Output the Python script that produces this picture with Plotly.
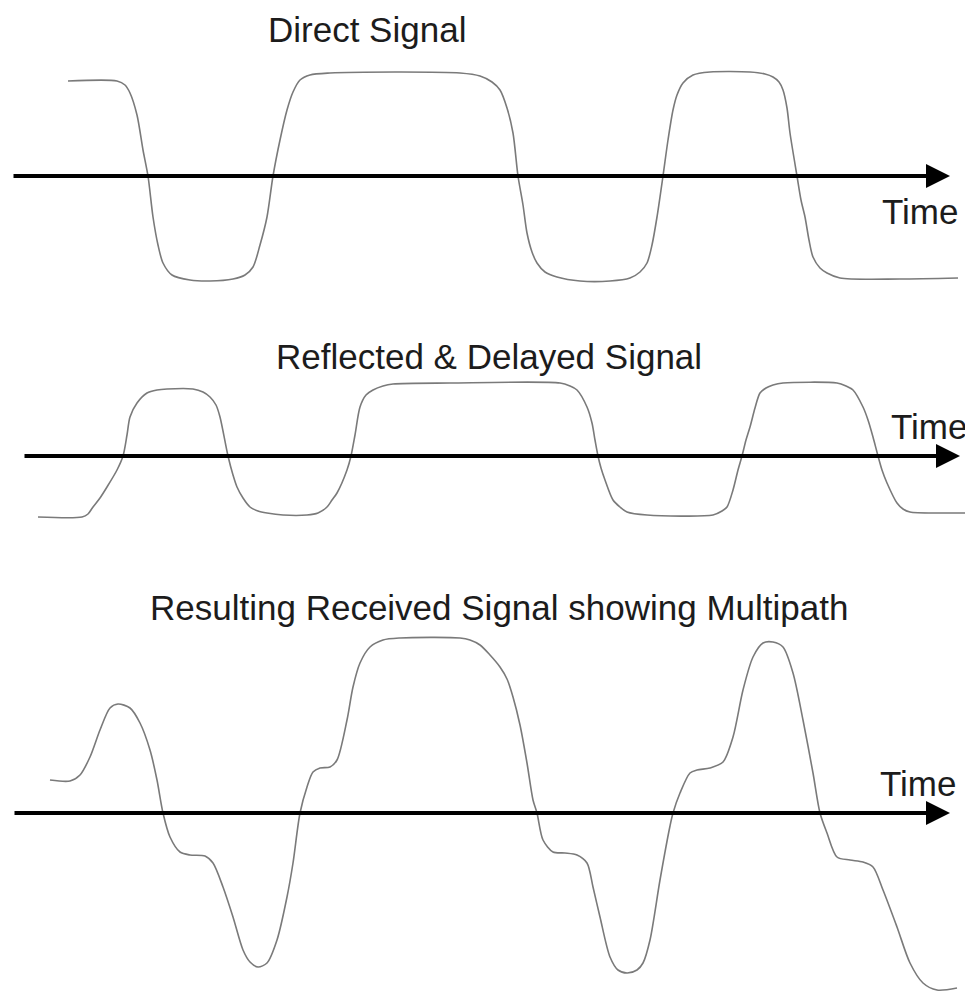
import plotly.graph_objects as go

# ---------------- data ----------------
# time positions (px along the time axis) and amplitude (px above the time axis)
direct_t = [68,117,125,130,137,143,148,153,158,163,172,190,210,233,245,253,260,267,273,280,
            287,293,300,310,330,400,460,480,492,500,507,513,518,523,527,532,537,545,557,580,
            610,630,640,647,652,657,663,668,673,677,683,693,710,750,765,773,779,783,787,790,
            797,801,805,809,813,820,827,840,900,958]
direct_a = [95,95,91,83,61,26,0,-41,-69,-87,-99,-104,-105,-103,-99,-91,-69,-41,0,36,
            66,84,96,101,103,104,103,100,94,86,68,43,0,-29,-57,-76,-87,-96,-101,-105,
            -105,-102,-96,-87,-69,-41,0,36,66,81,93,101,104,104,102,99,94,86,68,43,
            0,-24,-41,-64,-81,-92,-97,-102,-103,-102]

reflected_t = [38,82,88,93,100,107,117,123,127,130,137,147,157,167,193,203,210,216,220,228,
               233,237,243,250,258,267,283,307,318,327,332,337,347,351,355,360,366,373,383,393,
               450,560,570,577,587,592,595,598,601,605,613,620,627,647,713,722,727,733,738,742,
               746,750,755,760,766,773,783,837,846,853,863,868,873,878,882,887,897,903,910,940,967]
reflected_a = [-61,-61,-58,-51,-42,-31,-14,0,21,39,53,63,66,67,67,64,59,51,39,0,
               -19,-31,-42,-51,-55,-57,-59,-59,-57,-51,-44,-37,-14,0,21,49,61,66,70,72,
               73,73,70,66,49,33,16,0,-12,-24,-44,-51,-56,-59,-59,-55,-51,-34,-14,0,
               16,29,48,63,68,71,73,73,70,66,49,36,19,0,-14,-27,-47,-53,-56,-57,-57]

result_t = [50,70,80,90,100,110,118,130,140,150,157,163,170,180,190,205,213,223,233,243,
            250,258,267,277,287,293,300,307,313,320,330,337,347,353,360,370,383,400,460,470,
            480,490,500,507,513,520,527,533,537,543,553,565,577,587,593,600,610,618,627,637,
            643,650,660,670,673,680,690,697,710,723,733,743,753,763,773,783,793,803,813,820,
            827,837,850,863,873,883,897,910,923,937,957]
result_a = [33,32,38,56,83,105,109,105,90,63,33,0,-24,-39,-42,-43,-50,-74,-104,-137,
            -149,-154,-150,-127,-84,-50,0,26,41,45,46,53,93,126,150,166,173,175,175,173,
            168,158,146,134,116,88,50,13,0,-27,-39,-40,-42,-50,-74,-104,-144,-157,-160,-157,
            -150,-127,-67,-13,0,20,40,43,45,51,76,123,156,170,171,166,140,93,40,0,
            -20,-44,-47,-49,-54,-77,-114,-150,-170,-177,-175]

titles = ["Direct Signal", "Reflected & Delayed Signal",
          "Resulting Received Signal showing Multipath"]
axis_label = "Time"

# ---------------- layout geometry ----------------
PAGE_W, PAGE_H = 973, 994
OFF = 8                                 # default body margin of the html page
W, H = PAGE_W - OFF, PAGE_H - OFF
baselines = [176, 456, 813]            # page pixel row of each time axis
axis_start = [12, 23, 13]
axis_tip = [950, 960, 950]
title_pos = [(367, 29), (489, 356), (499, 607)]
time_pos = [(920, 211), (929, 426), (918, 783)]

LINE = "#7a7a7a"
TEXT = "#1c1c1c"
FONT = "Liberation Sans, Arial, sans-serif"
FSIZE = 35

fig = go.Figure()
series = [(direct_t, direct_a), (reflected_t, reflected_a), (result_t, result_a)]
yrefs = ["y", "y2", "y3"]
for (t, a), yr in zip(series, yrefs):
    fig.add_trace(go.Scatter(x=t, y=a, mode="lines", yaxis=yr,
                             line=dict(color=LINE, width=1.6, shape="spline", smoothing=0.8),
                             hoverinfo="skip", showlegend=False))

annotations = []
for i, yr in enumerate(yrefs):
    annotations.append(dict(x=axis_tip[i], y=0, ax=axis_start[i], ay=0,
                            xref="x", yref=yr, axref="x", ayref=yr,
                            text="", showarrow=True, arrowhead=2, arrowsize=1.2,
                            arrowwidth=4, arrowcolor="#000000", standoff=0, startstandoff=0))
    tx, ty = title_pos[i]
    annotations.append(dict(x=tx, y=baselines[i] - ty, xref="x", yref=yr,
                            text=titles[i], showarrow=False, xanchor="center", yanchor="middle",
                            font=dict(family=FONT, size=FSIZE, color=TEXT)))
    lx, ly = time_pos[i]
    annotations.append(dict(x=lx, y=baselines[i] - ly, xref="x", yref=yr,
                            text=axis_label, showarrow=False, xanchor="center", yanchor="middle",
                            font=dict(family=FONT, size=FSIZE, color=TEXT)))

def yax(b, **kw):
    b_fig = b - OFF
    d = dict(range=[-(H - b_fig), b_fig], visible=False, fixedrange=True, domain=[0, 1])
    d.update(kw)
    return d

fig.update_layout(
    width=W, height=H,
    margin=dict(l=0, r=0, t=0, b=0),
    paper_bgcolor="white", plot_bgcolor="white",
    xaxis=dict(range=[OFF, PAGE_W], visible=False, fixedrange=True),
    yaxis=yax(baselines[0]),
    yaxis2=yax(baselines[1], overlaying="y"),
    yaxis3=yax(baselines[2], overlaying="y"),
    annotations=annotations,
    showlegend=False,
)

fig.write_html("out.html")
